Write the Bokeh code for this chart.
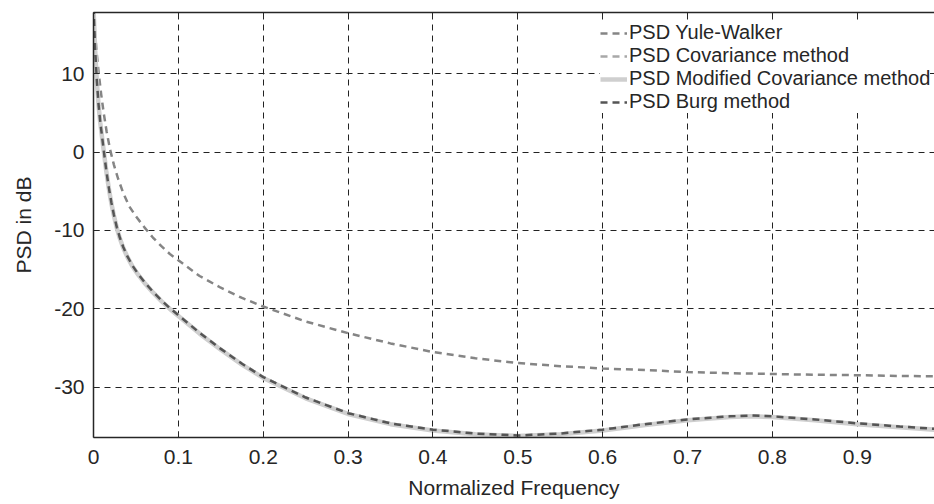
from bokeh.plotting import figure
from bokeh.models import Range1d, LinearAxis, Legend, LegendItem, FixedTicker
from bokeh.embed import file_html
from bokeh.resources import INLINE

# ---- data ----
freq_yule = [0.0, 0.002, 0.004, 0.006, 0.009, 0.012, 0.0155, 0.0196, 0.024, 0.029, 0.035,
             0.042, 0.05, 0.06, 0.07, 0.08, 0.09, 0.1, 0.125, 0.15, 0.175, 0.2, 0.25, 0.3,
             0.35, 0.4, 0.45, 0.5, 0.55, 0.6, 0.65, 0.7, 0.75, 0.8, 0.85, 0.9, 0.95, 0.991]
psd_yule = [18.5, 15.0, 12.4, 10.2, 7.4, 5.0, 2.6, 0.3, -1.6, -3.4, -5.2,
            -6.9, -8.2, -9.6, -10.9, -12.0, -13.0, -13.8, -15.8, -17.3, -18.6, -19.7, -21.6, -23.1,
            -24.4, -25.5, -26.3, -26.9, -27.3, -27.6, -27.8, -28.05, -28.2, -28.3, -28.4, -28.45, -28.55, -28.6]

freq = [0.0, 0.002, 0.004, 0.006, 0.008, 0.012, 0.015, 0.018, 0.021, 0.024, 0.0275,
        0.031, 0.035, 0.04, 0.046, 0.053, 0.061, 0.07, 0.08, 0.09, 0.1, 0.125, 0.15,
        0.175, 0.2, 0.25, 0.3, 0.35, 0.4, 0.45, 0.5, 0.55, 0.6, 0.65, 0.7, 0.75, 0.775,
        0.8, 0.85, 0.9, 0.95, 0.991]

psd_cov = [18.5, 13.0, 9.0, 6.0, 3.8, 0.3, -2.3, -4.5, -6.4, -8.0, -9.6,
           -10.9, -12.1, -13.3, -14.5, -15.6, -16.7, -17.8, -18.9, -19.9, -20.8, -23.05, -25.1,
           -27.0, -28.7, -31.3, -33.3, -34.6, -35.4, -35.9, -36.15, -35.9, -35.4, -34.7, -34.1, -33.7, -33.6,
           -33.7, -34.1, -34.6, -35.0, -35.3]

psd_mcov = [18.5, 12.9, 8.9, 5.9, 3.7, 0.2, -2.4, -4.6, -6.5, -8.1, -9.7,
            -11.0, -12.2, -13.4, -14.6, -15.7, -16.8, -17.9, -19.0, -20.0, -20.9, -23.15, -25.2,
            -27.1, -28.8, -31.4, -33.4, -34.7, -35.5, -36.0, -36.2, -36.0, -35.5, -34.8, -34.2, -33.8, -33.7,
            -33.8, -34.2, -34.7, -35.1, -35.4]

psd_burg = [18.5, 13.0, 9.0, 6.0, 3.8, 0.3, -2.3, -4.5, -6.4, -8.0, -9.6,
            -10.9, -12.1, -13.3, -14.5, -15.6, -16.7, -17.8, -18.9, -19.9, -20.8, -23.05, -25.1,
            -27.0, -28.7, -31.3, -33.3, -34.6, -35.4, -35.9, -36.15, -35.9, -35.4, -34.7, -34.1, -33.7, -33.6,
            -33.7, -34.1, -34.6, -35.0, -35.3]

x_ticks = [0, 0.1, 0.2, 0.3, 0.4, 0.5, 0.6, 0.7, 0.8, 0.9]
x_tick_labels = ["0", "0.1", "0.2", "0.3", "0.4", "0.5", "0.6", "0.7", "0.8", "0.9"]
y_ticks = [-30, -20, -10, 0, 10]
y_tick_labels = ["-30", "-20", "-10", "0", "10"]

series_names = ["PSD Yule-Walker", "PSD Covariance method",
                "PSD Modified Covariance method", "PSD Burg method"]

FONT = "Liberation Sans"
TXT = "#262626"

p = figure(width=934, height=504, output_backend="svg", toolbar_location=None,
           x_range=Range1d(0, 0.991), y_range=Range1d(-36.4, 17.8),
           min_border_left=93, min_border_right=0, min_border_top=12, min_border_bottom=67)
p.outline_line_color = None
p.background_fill_color = "white"
p.border_fill_color = "white"

# grid
for g in (p.xgrid, p.ygrid):
    g.grid_line_color = "#222222"
    g.grid_line_dash = "6 5"
    g.grid_line_width = 1
p.xgrid.ticker = FixedTicker(ticks=x_ticks)
p.ygrid.ticker = FixedTicker(ticks=y_ticks)

# axes
xa = p.xaxis[0]
ya = p.yaxis[0]
xa.ticker = FixedTicker(ticks=x_ticks)
ya.ticker = FixedTicker(ticks=y_ticks)
xa.major_label_overrides = {t: l for t, l in zip(x_ticks, x_tick_labels)}
ya.major_label_overrides = {t: l for t, l in zip(y_ticks, y_tick_labels)}
xa.axis_label = "Normalized Frequency"
ya.axis_label = "PSD in dB"
for a in (xa, ya):
    a.axis_line_color = TXT
    a.axis_line_width = 1.5
    a.major_tick_line_color = TXT
    a.major_tick_in = 6
    a.major_tick_out = 0
    a.minor_tick_line_color = None
    a.major_label_text_font = FONT
    a.major_label_text_font_size = "21px"
    a.major_label_text_color = TXT
    a.axis_label_text_font = FONT
    a.axis_label_text_font_size = "21px"
    a.axis_label_text_font_style = "normal"
    a.axis_label_text_color = TXT
xa.major_label_standoff = 12
xa.axis_label_standoff = 9
ya.major_label_standoff = 9
ya.axis_label_standoff = 16

top = LinearAxis(ticker=FixedTicker(ticks=x_ticks))
top.major_label_overrides = {t: "" for t in x_ticks}
top.major_label_standoff = 0
top.major_label_text_font_size = "1px"
top.axis_line_color = TXT
top.axis_line_width = 1.5
top.major_tick_line_color = TXT
top.major_tick_in = 6
top.major_tick_out = 0
top.minor_tick_line_color = None
p.add_layout(top, "above")

# curves
r_yule = p.line(freq_yule, psd_yule, line_color="#858585", line_width=2.5, line_dash="7 5")
r_cov = p.line(freq, psd_cov, line_color="#a8a8a8", line_width=2.5, line_dash="7 5")
r_mcov = p.line(freq, psd_mcov, line_color="#cfcfcf", line_width=4.5)
r_burg = p.line(freq, psd_burg, line_color="#555555", line_width=2.5, line_dash="7 5")

legend = Legend(items=[LegendItem(label=n, renderers=[r]) for n, r in
                       zip(series_names, [r_yule, r_cov, r_mcov, r_burg])],
                location=(507, 324))
legend.margin = 0
legend.padding = 4
legend.spacing = 0
legend.glyph_width = 27
legend.glyph_height = 20
legend.label_height = 20
legend.label_standoff = 2
legend.label_text_font = FONT
legend.label_text_font_size = "20px"
legend.label_text_color = TXT
legend.background_fill_color = "white"
legend.background_fill_alpha = 1.0
legend.border_line_color = None
p.add_layout(legend)

open("out.html", "w").write(file_html(p, INLINE))
